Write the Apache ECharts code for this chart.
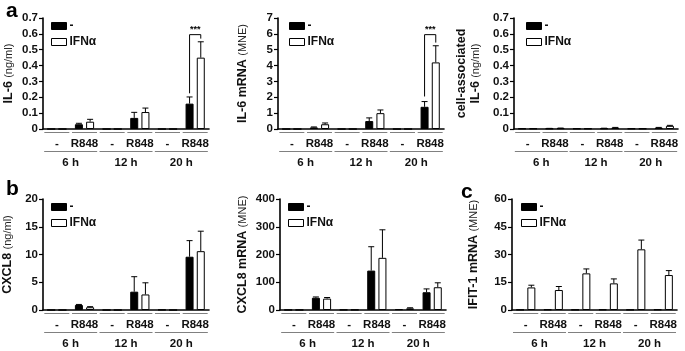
<!DOCTYPE html>
<html>
<head>
<meta charset="utf-8">
<script src="https://cdn.jsdelivr.net/npm/echarts@6/dist/echarts.min.js"></script>
<style>
  html, body { margin: 0; padding: 0; background: #fff; }
  #charts { width: 685px; height: 351px; }
</style>
</head>
<body>
<div id="charts"></div>
<script>
// categories
const cats = ['-', 'R848', '-', 'R848', '-', 'R848'];
const times = ['6 h', '12 h', '20 h'];
const groups = ['-', 'IFNα'];

// a: IL-6 protein (ng/ml)
const il6Ctrl = [0, 0.03, 0, 0.07, 0, 0.16];
const il6CtrlErr = [0, 0.006, 0, 0.035, 0, 0.042];
const il6Ifn = [0, 0.046, 0, 0.107, 0, 0.45];
const il6IfnErr = [0, 0.015, 0, 0.025, 0, 0.1];

// a: IL-6 mRNA (MNE)
const il6mCtrl = [0, 0.1, 0, 0.5, 0, 1.4];
const il6mCtrlErr = [0, 0.03, 0, 0.2, 0, 0.33];
const il6mIfn = [0, 0.3, 0, 1.0, 0, 4.2];
const il6mIfnErr = [0, 0.08, 0, 0.2, 0, 1.05];

// a: cell-associated IL-6 (ng/ml)
const il6cCtrl = [0.003, 0.003, 0.003, 0.004, 0.003, 0.008];
const il6cCtrlErr = [0, 0.001, 0, 0.001, 0, 0.002];
const il6cIfn = [0.003, 0.005, 0.003, 0.008, 0.003, 0.02];
const il6cIfnErr = [0, 0.001, 0, 0.002, 0, 0.003];

// b: CXCL8 protein (ng/ml)
const cx8Ctrl = [0, 0.9, 0, 3.3, 0.05, 9.6];
const cx8CtrlErr = [0, 0.1, 0, 2.7, 0, 2.9];
const cx8Ifn = [0, 0.5, 0, 2.8, 0, 10.6];
const cx8IfnErr = [0, 0.1, 0, 2.1, 0, 3.6];

// b: CXCL8 mRNA (MNE)
const cx8mCtrl = [0.5, 44, 1, 142, 3, 64];
const cx8mCtrlErr = [0, 3, 0, 86, 0, 12];
const cx8mIfn = [0.5, 41, 1, 188, 6, 82];
const cx8mIfnErr = [0, 4, 0, 101, 2, 16];

// c: IFIT-1 mRNA (MNE)
const ifitCtrl = [0.2, 0.3, 0.2, 0.3, 0.2, 0.3];
const ifitCtrlErr = [0, 0, 0, 0, 0, 0];
const ifitIfn = [12.2, 10.8, 19.8, 14.4, 32.8, 18.9];
const ifitIfnErr = [1.2, 1.9, 2.4, 2.4, 5, 2.4];

// significance brackets: [category, top, left leg end, right leg end]
const il6Sig = [[5, 0.595, 0.225, 0.57]];
const il6mSig = [[5, 5.95, 2.05, 5.45]];

const FONT = '"Liberation Sans", Arial, sans-serif';
const BAR_W = 8;
const HALF = (BAR_W + BAR_W * 0.4) / 2;

const panels = [
    {grid: {left: 43, top: 18, width: 166, height: 111}, max: 0.7, interval: 0.1,
        name: '{b|IL-6} {n|(ng/ml)}', nameGap: 27, legend: {left: 46, top: 15},
        ctrl: il6Ctrl, ctrlErr: il6CtrlErr, ifn: il6Ifn, ifnErr: il6IfnErr, sig: il6Sig},
    {grid: {left: 278, top: 18, width: 166, height: 111}, max: 7, interval: 1,
        name: '{b|IL-6 mRNA} {n|(MNE)}', nameGap: 28, legend: {left: 284, top: 15},
        ctrl: il6mCtrl, ctrlErr: il6mCtrlErr, ifn: il6mIfn, ifnErr: il6mIfnErr, sig: il6mSig},
    {grid: {left: 514, top: 18, width: 164, height: 111}, max: 0.7, interval: 0.1,
        name: '{b|cell-associated}\n{b|IL-6} {n|(ng/ml)}', nameGap: 31, legend: {left: 521, top: 15},
        ctrl: il6cCtrl, ctrlErr: il6cCtrlErr, ifn: il6cIfn, ifnErr: il6cIfnErr, sig: []},
    {grid: {left: 43, top: 199, width: 166, height: 111}, max: 20, interval: 5,
        name: '{b|CXCL8} {n|(ng/ml)}', nameGap: 28, legend: {left: 46, top: 196},
        ctrl: cx8Ctrl, ctrlErr: cx8CtrlErr, ifn: cx8Ifn, ifnErr: cx8IfnErr, sig: []},
    {grid: {left: 280, top: 199, width: 166, height: 111}, max: 400, interval: 100,
        name: '{b|CXCL8 mRNA} {n|(MNE)}', nameGap: 30, legend: {left: 283, top: 196},
        ctrl: cx8mCtrl, ctrlErr: cx8mCtrlErr, ifn: cx8mIfn, ifnErr: cx8mIfnErr, sig: []},
    {grid: {left: 512, top: 199, width: 165, height: 111}, max: 60, interval: 15,
        name: '{b|IFIT-1 mRNA} {n|(MNE)}', nameGap: 31, legend: {left: 516, top: 196},
        ctrl: ifitCtrl, ctrlErr: ifitCtrlErr, ifn: ifitIfn, ifnErr: ifitIfnErr, sig: []}
];

const errItem = offset => (params, api) => {
    const e = api.value(2);
    if (!(e > 0)) return;
    const x = api.value(0);
    const v = api.value(1);
    const base = api.coord([x, v]);
    const top = api.coord([x, v + e]);
    const cx = base[0] + offset;
    const st = {stroke: '#000', lineWidth: 1};
    return {
        type: 'group',
        children: [
            {type: 'line', shape: {x1: cx, y1: base[1], x2: cx, y2: top[1]}, style: st},
            {type: 'line', shape: {x1: cx - 3, y1: top[1], x2: cx + 3, y2: top[1]}, style: st}
        ]
    };
};

const sigItem = (params, api) => {
    const x = api.value(0);
    const top = api.coord([x, api.value(1)]);
    const l = api.coord([x, api.value(2)]);
    const r = api.coord([x, api.value(3)]);
    return {
        type: 'group',
        children: [
            {type: 'polyline', shape: {points: [[top[0] - HALF, l[1]], [top[0] - HALF, top[1]], [top[0] + HALF, top[1]], [top[0] + HALF, r[1]]]},
                style: {stroke: '#000', lineWidth: 1, fill: null}},
            {type: 'text', x: top[0], y: top[1] - 1,
                style: {text: '***', fontSize: 9, fontWeight: 'bold', fontFamily: FONT, fill: '#000', align: 'center', verticalAlign: 'bottom'}}
        ]
    };
};

const lineRich = w => ({
    ln: {width: w, height: 1, lineHeight: 1, backgroundColor: '#808080'},
    t: {fontSize: 11.5, fontWeight: 'bold', fontFamily: FONT, color: '#111', lineHeight: 22}
});

var chartDom = document.getElementById('charts');
var myChart = echarts.init(chartDom, null, {renderer: 'canvas'});

const option = {
    animation: false,
    backgroundColor: '#fff',
    title: [
        {text: 'a', left: 1, top: -4, textStyle: {fontSize: 21, fontWeight: 'bold', fontFamily: FONT, color: '#000'}},
        {text: 'b', left: 1, top: 174, textStyle: {fontSize: 21, fontWeight: 'bold', fontFamily: FONT, color: '#000'}},
        {text: 'c', left: 456, top: 177, textStyle: {fontSize: 21, fontWeight: 'bold', fontFamily: FONT, color: '#000'}}
    ],
    grid: [],
    xAxis: [],
    yAxis: [],
    legend: [],
    series: []
};

panels.forEach((p, i) => {
    option.grid.push({...p.grid, containLabel: false, outerBoundsMode: 'none'});
    option.xAxis.push({
        type: 'category', gridIndex: i, data: cats,
        axisLine: {lineStyle: {color: '#000', width: 1.6}},
        axisTick: {show: false},
        axisLabel: {interval: 0, margin: 3, formatter: v => '{ln|}\n{t|' + v + '}', rich: lineRich(25)}
    });
    option.xAxis.push({
        type: 'category', gridIndex: i, data: times, position: 'bottom', offset: 19,
        axisLine: {show: false}, axisTick: {show: false}, splitLine: {show: false},
        axisLabel: {interval: 0, margin: 3, formatter: v => '{ln|}\n{t|' + v + '}', rich: lineRich(53)}
    });
    option.yAxis.push({
        type: 'value', gridIndex: i, min: 0, max: p.max, interval: p.interval,
        name: p.name, nameLocation: 'middle', nameGap: p.nameGap, nameRotate: 90,
        nameTextStyle: {
            color: '#111', lineHeight: 14,
            rich: {
                b: {fontSize: 12.5, fontWeight: 'bold', fontFamily: FONT, color: '#111', lineHeight: 14},
                n: {fontSize: 11, fontWeight: 'normal', fontFamily: FONT, color: '#222', lineHeight: 14}
            }
        },
        axisLine: {show: true, lineStyle: {color: '#000', width: 1.6}},
        axisTick: {show: true, length: 4, lineStyle: {color: '#000', width: 1.2}},
        splitLine: {show: false},
        axisLabel: {margin: 5, fontSize: 11.5, fontWeight: 'bold', fontFamily: FONT, color: '#111'}
    });
    option.legend.push({
        left: p.legend.left, top: p.legend.top, orient: 'vertical',
        itemWidth: 15, itemHeight: 7, itemGap: 4,
        textStyle: {fontSize: 12, fontWeight: 'bold', fontFamily: FONT, color: '#111', padding: [0, 0, 0, -2]},
        data: [
            {name: groups[0], icon: 'rect', itemStyle: {color: '#000', borderColor: '#000', borderWidth: 1}},
            {name: groups[1], icon: 'rect', itemStyle: {color: '#fff', borderColor: '#000', borderWidth: 1}}
        ]
    });
    const xi = i * 2;
    option.series.push({
        type: 'bar', name: groups[0], xAxisIndex: xi, yAxisIndex: i,
        data: p.ctrl, barWidth: BAR_W, barGap: '40%',
        itemStyle: {color: '#000', borderColor: '#000', borderWidth: 1}
    });
    option.series.push({
        type: 'bar', name: groups[1], xAxisIndex: xi, yAxisIndex: i,
        data: p.ifn, barWidth: BAR_W, barGap: '40%',
        itemStyle: {color: '#fff', borderColor: '#000', borderWidth: 1}
    });
    option.series.push({
        type: 'custom', xAxisIndex: xi, yAxisIndex: i, silent: true, z: 3,
        renderItem: errItem(-HALF),
        data: p.ctrl.map((v, k) => [k, v, p.ctrlErr[k]])
    });
    option.series.push({
        type: 'custom', xAxisIndex: xi, yAxisIndex: i, silent: true, z: 3,
        renderItem: errItem(HALF),
        data: p.ifn.map((v, k) => [k, v, p.ifnErr[k]])
    });
    if (p.sig.length) {
        option.series.push({
            type: 'custom', xAxisIndex: xi, yAxisIndex: i, silent: true, z: 3,
            renderItem: sigItem, data: p.sig
        });
    }
});

myChart.setOption(option);
</script>
</body>
</html>
